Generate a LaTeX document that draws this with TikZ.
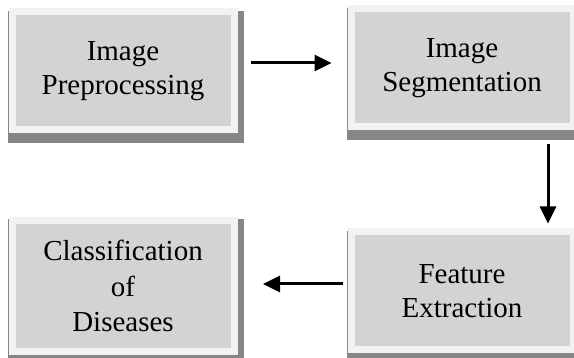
\documentclass[tikz,border=0pt]{standalone}
\usepackage{fontspec}
\setmainfont{Liberation Serif}
\usetikzlibrary{arrows.meta,backgrounds}
\definecolor{innergray}{HTML}{D3D3D3}
\definecolor{edgegray}{HTML}{F2F2F2}
\definecolor{shadowgray}{HTML}{868686}
\begin{document}
\begin{tikzpicture}[x=1pt,y=-1pt,
  procbox/.style={fill=innergray, draw=edgegray, line width=7pt, inner sep=0pt,
    align=center, minimum width=222pt, font=\fontsize{29}{34}\selectfont},
  flow/.style={line width=3pt, -{Triangle[length=17pt,width=16pt]}}]
\useasboundingbox (0,0) rectangle (574,358);
\node[procbox, minimum height=118pt] (b1) at (123,71) {Image\\Preprocessing};
\node[procbox, minimum height=118pt] (b2) at (462,68) {Image\\Segmentation};
\node[procbox, minimum height=131pt, font=\fontsize{29}{35.5}\selectfont] (b3) at (123,286) {Classification\\of\\Diseases};
\node[procbox, minimum height=118pt] (b4) at (462,291) {Feature\\Extraction};
\begin{scope}[on background layer]
  \foreach \n in {b1,b2,b3,b4}
    \fill[shadowgray] ([shift={(-0.5pt,-9.5pt)}]\n.south west) rectangle ([shift={(6.5pt,-2.5pt)}]\n.north east);
\end{scope}
\draw[flow, shorten <=13.5pt, shorten >=16pt] ([yshift=8pt]b1.east) -- ([yshift=8pt]b1.east -| b2.west);
\draw[flow, shorten <=13.5pt, shorten >=5pt] ([xshift=86pt]b2.south) -- ([xshift=86pt]b2.south |- b4.north);
\draw[flow, shorten <=5pt, shorten >=25.5pt] ([yshift=7pt]b4.west) -- ([yshift=7pt]b4.west -| b3.east);
\end{tikzpicture}
\end{document}
